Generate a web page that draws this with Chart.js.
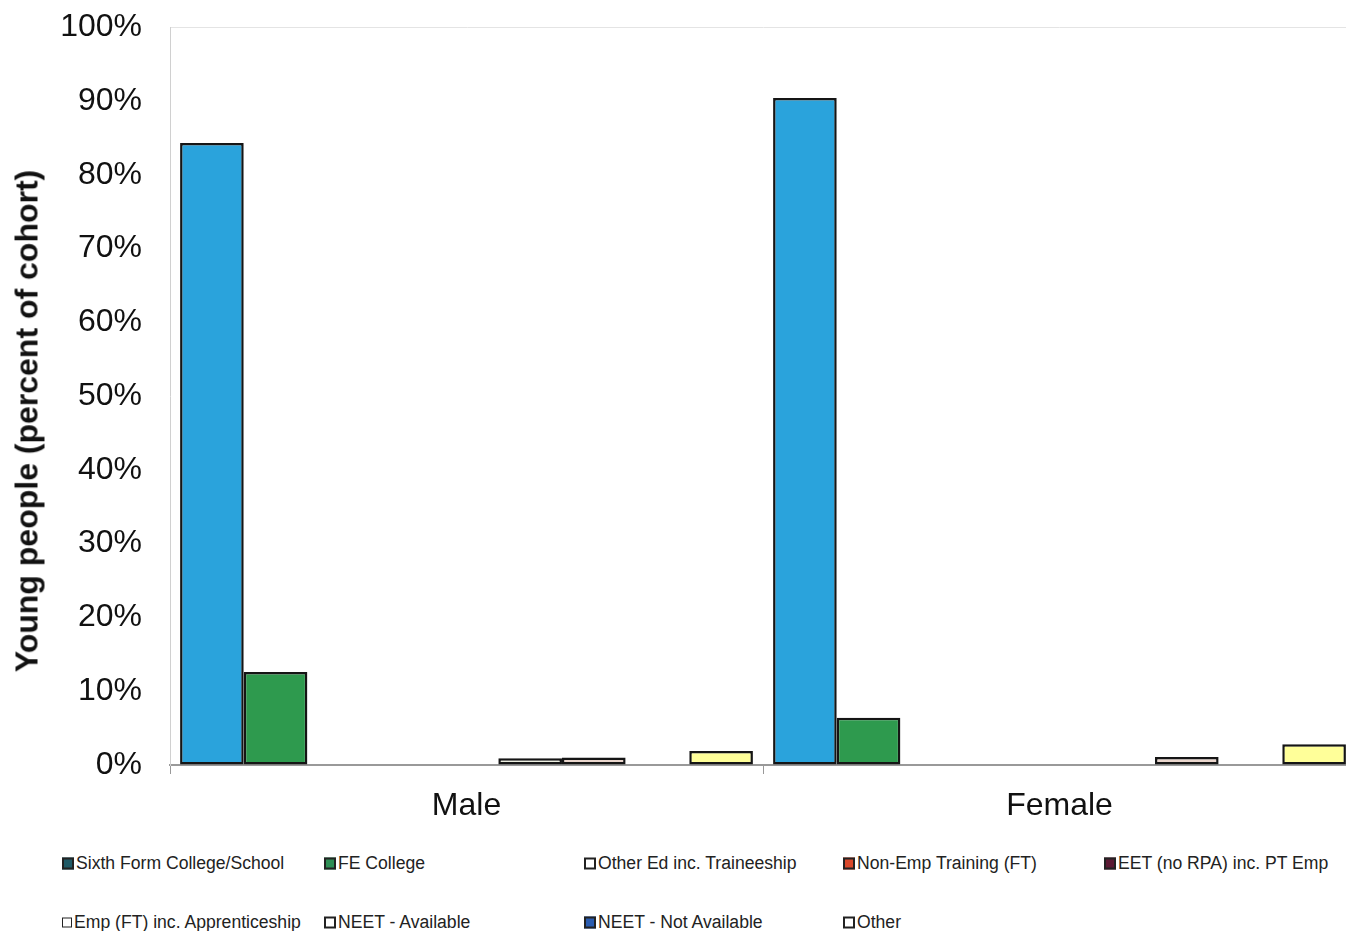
<!DOCTYPE html>
<html>
<head>
<meta charset="utf-8">
<script src="https://cdn.jsdelivr.net/npm/chart.js@4.4.0/dist/chart.umd.min.js"></script>
<style>
  html, body { margin: 0; padding: 0; background: #fff; overflow: hidden; width: 1346px; height: 931px; }
  #wrap { position: relative; width: 1346px; height: 931px; overflow: hidden; }
  #chart { position: absolute; left: 0; top: -20px; }
  #yTitle {
    position: absolute; left: 27px; top: 421px;
    transform: translate(-50%, -50%) rotate(-90deg);
    font: bold 32px "Liberation Sans", Arial, sans-serif; color: #111; white-space: nowrap;
  }
  .legend-item {
    position: absolute; font: 17.6px "Liberation Sans", Arial, sans-serif; color: #222;
    white-space: nowrap; transform: translateY(-50%); display: flex; align-items: center;
  }
  .legend-item .box { width: 8px; height: 8px; border: 2px solid #222; margin-right: 2px; }
</style>
</head>
<body>
<div id="wrap">
  <canvas id="chart" width="1370" height="850"></canvas>
  <div id="yTitle">Young people (percent of cohort)</div>
  <div id="legend"></div>
</div>
<script>
// Chart data
const categories = ['Male', 'Female'];
const seriesNames = [
    'Sixth Form College/School', 'FE College', 'Other Ed inc. Traineeship',
    'Non-Emp Training (FT)', 'EET (no RPA) inc. PT Emp', 'Emp (FT) inc. Apprenticeship',
    'NEET - Available', 'NEET - Not Available', 'Other'
];
const sixthForm = [84.3, 90.4];
const feCollege = [12.6, 6.4];
const otherEd = [0, 0];
const nonEmpTraining = [0, 0];
const eetNoRpa = [0, 0];
const empFT = [0.9, 0];
const neetAvailable = [1.0, 1.1];
const neetNotAvailable = [0, 0];
const other = [1.9, 2.8];
const yTicks = [0, 10, 20, 30, 40, 50, 60, 70, 80, 90, 100];

const seriesValues = [sixthForm, feCollege, otherEd, nonEmpTraining, eetNoRpa, empFT, neetAvailable, neetNotAvailable, other];
const barColors = ['#2aa3dc', '#2e9a4e', '#ffffff', '#e0502a', '#6a1a3a', '#eef0e2', '#ead6cd', '#2a5cb0', '#ffff99'];
const swatchColors = ['#1f5a66', '#2e8f55', '#ffffff', '#d9472a', '#5c1a34', '#ffffff', '#ffffff', '#2a5cb0', '#ffffff'];

const FONT = '"Liberation Sans", Arial, sans-serif';

function buildLegend() {
    const cols = [62, 324, 584, 843, 1104];
    const rows = [863, 922];
    const legend = document.getElementById('legend');
    seriesNames.forEach((name, i) => {
        const item = document.createElement('div');
        item.className = 'legend-item';
        item.style.left = cols[i % 5] + 'px';
        item.style.top = rows[Math.floor(i / 5)] + 'px';
        const thin = (i === 5) ? '1px' : '2px';
        item.innerHTML = `<span class="box" style="background:${swatchColors[i]};border-width:${thin}"></span>${name}`;
        legend.appendChild(item);
    });
}

const datasets = seriesNames.map((name, i) => ({
    label: name,
    data: seriesValues[i],
    backgroundColor: barColors[i],
    borderColor: '#151515',
    borderWidth: 2.5,
    borderSkipped: false,
    categoryPercentage: 0.966,
    barPercentage: 1.0
}));

new Chart(document.getElementById('chart'), {
    type: 'bar',
    data: { labels: categories, datasets: datasets },
    options: {
        responsive: false,
        animation: false,
        layout: { padding: { left: 0, right: 14, top: 8, bottom: 0 } },
        plugins: {
            legend: { display: false },
            tooltip: { enabled: false },
            title: { display: false }
        },
        scales: {
            x: {
                grid: { display: true, drawOnChartArea: false, drawTicks: true, tickLength: 9, color: '#999', offset: true },
                border: { display: true, color: '#999', width: 2 },
                ticks: { font: { family: FONT, size: 32 }, color: '#111', padding: 13 },
                afterFit: (scale) => { scale.height = 65; }
            },
            y: {
                min: 0, max: 100,
                afterBuildTicks: (scale) => { scale.ticks = yTicks.map(v => ({ value: v })); },
                grid: {
                    drawTicks: false,
                    color: (ctx) => (ctx.tick && ctx.tick.value === 100) ? '#e4e4e4' : 'rgba(0,0,0,0)'
                },
                border: { display: true, color: '#d0d0d0', width: 1 },
                ticks: {
                    font: { family: FONT, size: 32 }, color: '#111', padding: 28,
                    callback: (v) => v + '%'
                },
                afterFit: (scale) => { scale.width = 170; }
            }
        }
    }
});

buildLegend();
</script>
</body>
</html>
